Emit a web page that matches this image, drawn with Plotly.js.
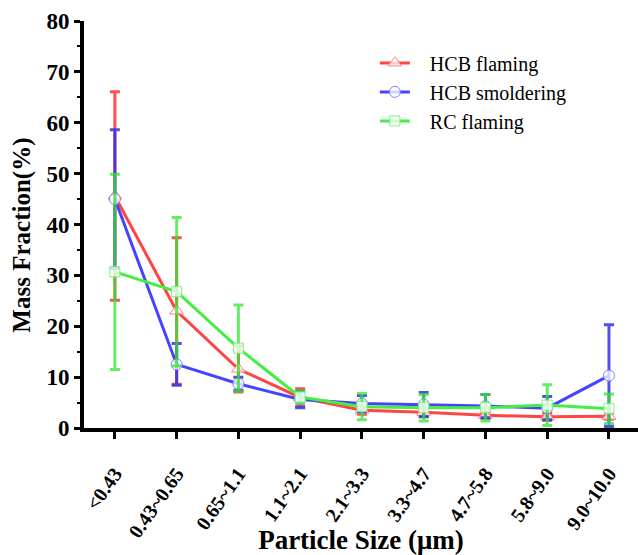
<!DOCTYPE html>
<html>
<head>
<meta charset="utf-8">
<script src="https://cdn.plot.ly/plotly-3.0.1.min.js"></script>
<style>html,body{margin:0;padding:0;background:#fff;}#chart{width:638px;height:555px;}</style>
</head>
<body>
<div id="chart"></div>
<script>
const categories = ['<0.43','0.43~0.65','0.65~1.1','1.1~2.1','2.1~3.3','3.3~4.7','4.7~5.8','5.8~9.0','9.0~10.0'];
const hcbFlaming    = [45.6, 23.0, 11.6, 6.0, 3.5, 3.1, 2.5, 2.2, 2.3];
const hcbFlamingErr = [20.5, 14.4, 4.5, 1.7, 0.8, 0.8, 0.6, 0.7, 0.6];
const hcbSmolder    = [45.0, 12.5, 8.7, 5.6, 4.8, 4.6, 4.3, 3.9, 10.3];
const hcbSmolderErr = [13.6, 4.1, 1.3, 1.6, 1.6, 2.4, 2.3, 2.3, 10.0];
const rcFlaming     = [30.7, 26.8, 15.7, 6.1, 4.2, 4.0, 4.0, 4.5, 3.8];
const rcFlamingErr  = [19.2, 14.6, 8.5, 1.2, 2.6, 2.6, 2.6, 4.0, 2.9];
const seriesNames = ['HCB flaming', 'HCB smoldering', 'RC flaming'];
const xTitle = 'Particle Size (μm)';
const yTitle = 'Mass Fraction(%)';

const serif = '"Liberation Serif", serif';
const pad = '\u00a0\u00a0\u00a0';

function trace(name, y, err, color, errColor, symbol, mEdge, size) {
  return {
    type: 'scatter', mode: 'lines+markers', name: pad + name,
    x: categories, y: y,
    line: {color: color, width: 3},
    marker: {symbol: symbol, size: size, color: 'rgba(255,255,255,0.75)', line: {color: mEdge, width: 1}},
    error_y: {type: 'data', array: err, visible: true, color: errColor, thickness: 3, width: 5}
  };
}

const data = [
  trace(seriesNames[0], hcbFlaming, hcbFlamingErr, '#FF4444', 'rgba(255,60,60,0.9)', 'triangle-up', '#FF8080', 12),
  trace(seriesNames[1], hcbSmolder, hcbSmolderErr, '#4444FF', 'rgba(50,50,230,0.85)', 'circle', '#8080FF', 11),
  trace(seriesNames[2], rcFlaming, rcFlamingErr, '#44EE44', 'rgba(50,230,50,0.75)', 'square', '#80F080', 10)
];

const layout = {
  width: 638, height: 555,
  margin: {l: 84, r: 0, t: 21, b: 127},
  paper_bgcolor: '#fff', plot_bgcolor: '#fff',
  font: {family: serif, color: '#000'},
  showlegend: true,
  legend: {
    x: 0.525, y: 0.945, xanchor: 'left', yanchor: 'top',
    bgcolor: 'rgba(0,0,0,0)', borderwidth: 0,
    font: {family: serif, size: 20, color: '#000', weight: 'normal'}
  },
  xaxis: {
    type: 'category',
    range: [-0.5, 8.47],
    showgrid: false, zeroline: false,
    showline: true, linecolor: '#000', linewidth: 4,
    ticks: 'outside', ticklen: 7, tickwidth: 3, tickcolor: '#000',
    tickangle: -55,
    ticklabelstandoff: 15,
    tickfont: {family: serif, size: 20, color: '#000', weight: 'bold'},
    title: {text: '<b>' + xTitle + '</b>', font: {family: serif, size: 27, color: '#000'}, standoff: 0}
  },
  yaxis: {
    range: [0, 80],
    dtick: 10,
    showgrid: false, zeroline: false,
    showline: true, linecolor: '#000', linewidth: 4,
    ticks: 'outside', ticklen: 6, tickwidth: 3, tickcolor: '#000',
    minor: {dtick: 5, ticks: 'outside', ticklen: 3, tickwidth: 2, tickcolor: '#000'},
    tickfont: {family: serif, size: 23, color: '#000', weight: 'bold'}
  },
  annotations: [{
    text: '<b>' + yTitle + '</b>', textangle: -90,
    xref: 'paper', yref: 'paper', x: -0.112, y: 0.475,
    xanchor: 'center', yanchor: 'middle', showarrow: false,
    font: {family: serif, size: 25, color: '#000'}
  }]
};

Plotly.newPlot('chart', data, layout, {displayModeBar: false, staticPlot: true});
</script>
</body>
</html>
